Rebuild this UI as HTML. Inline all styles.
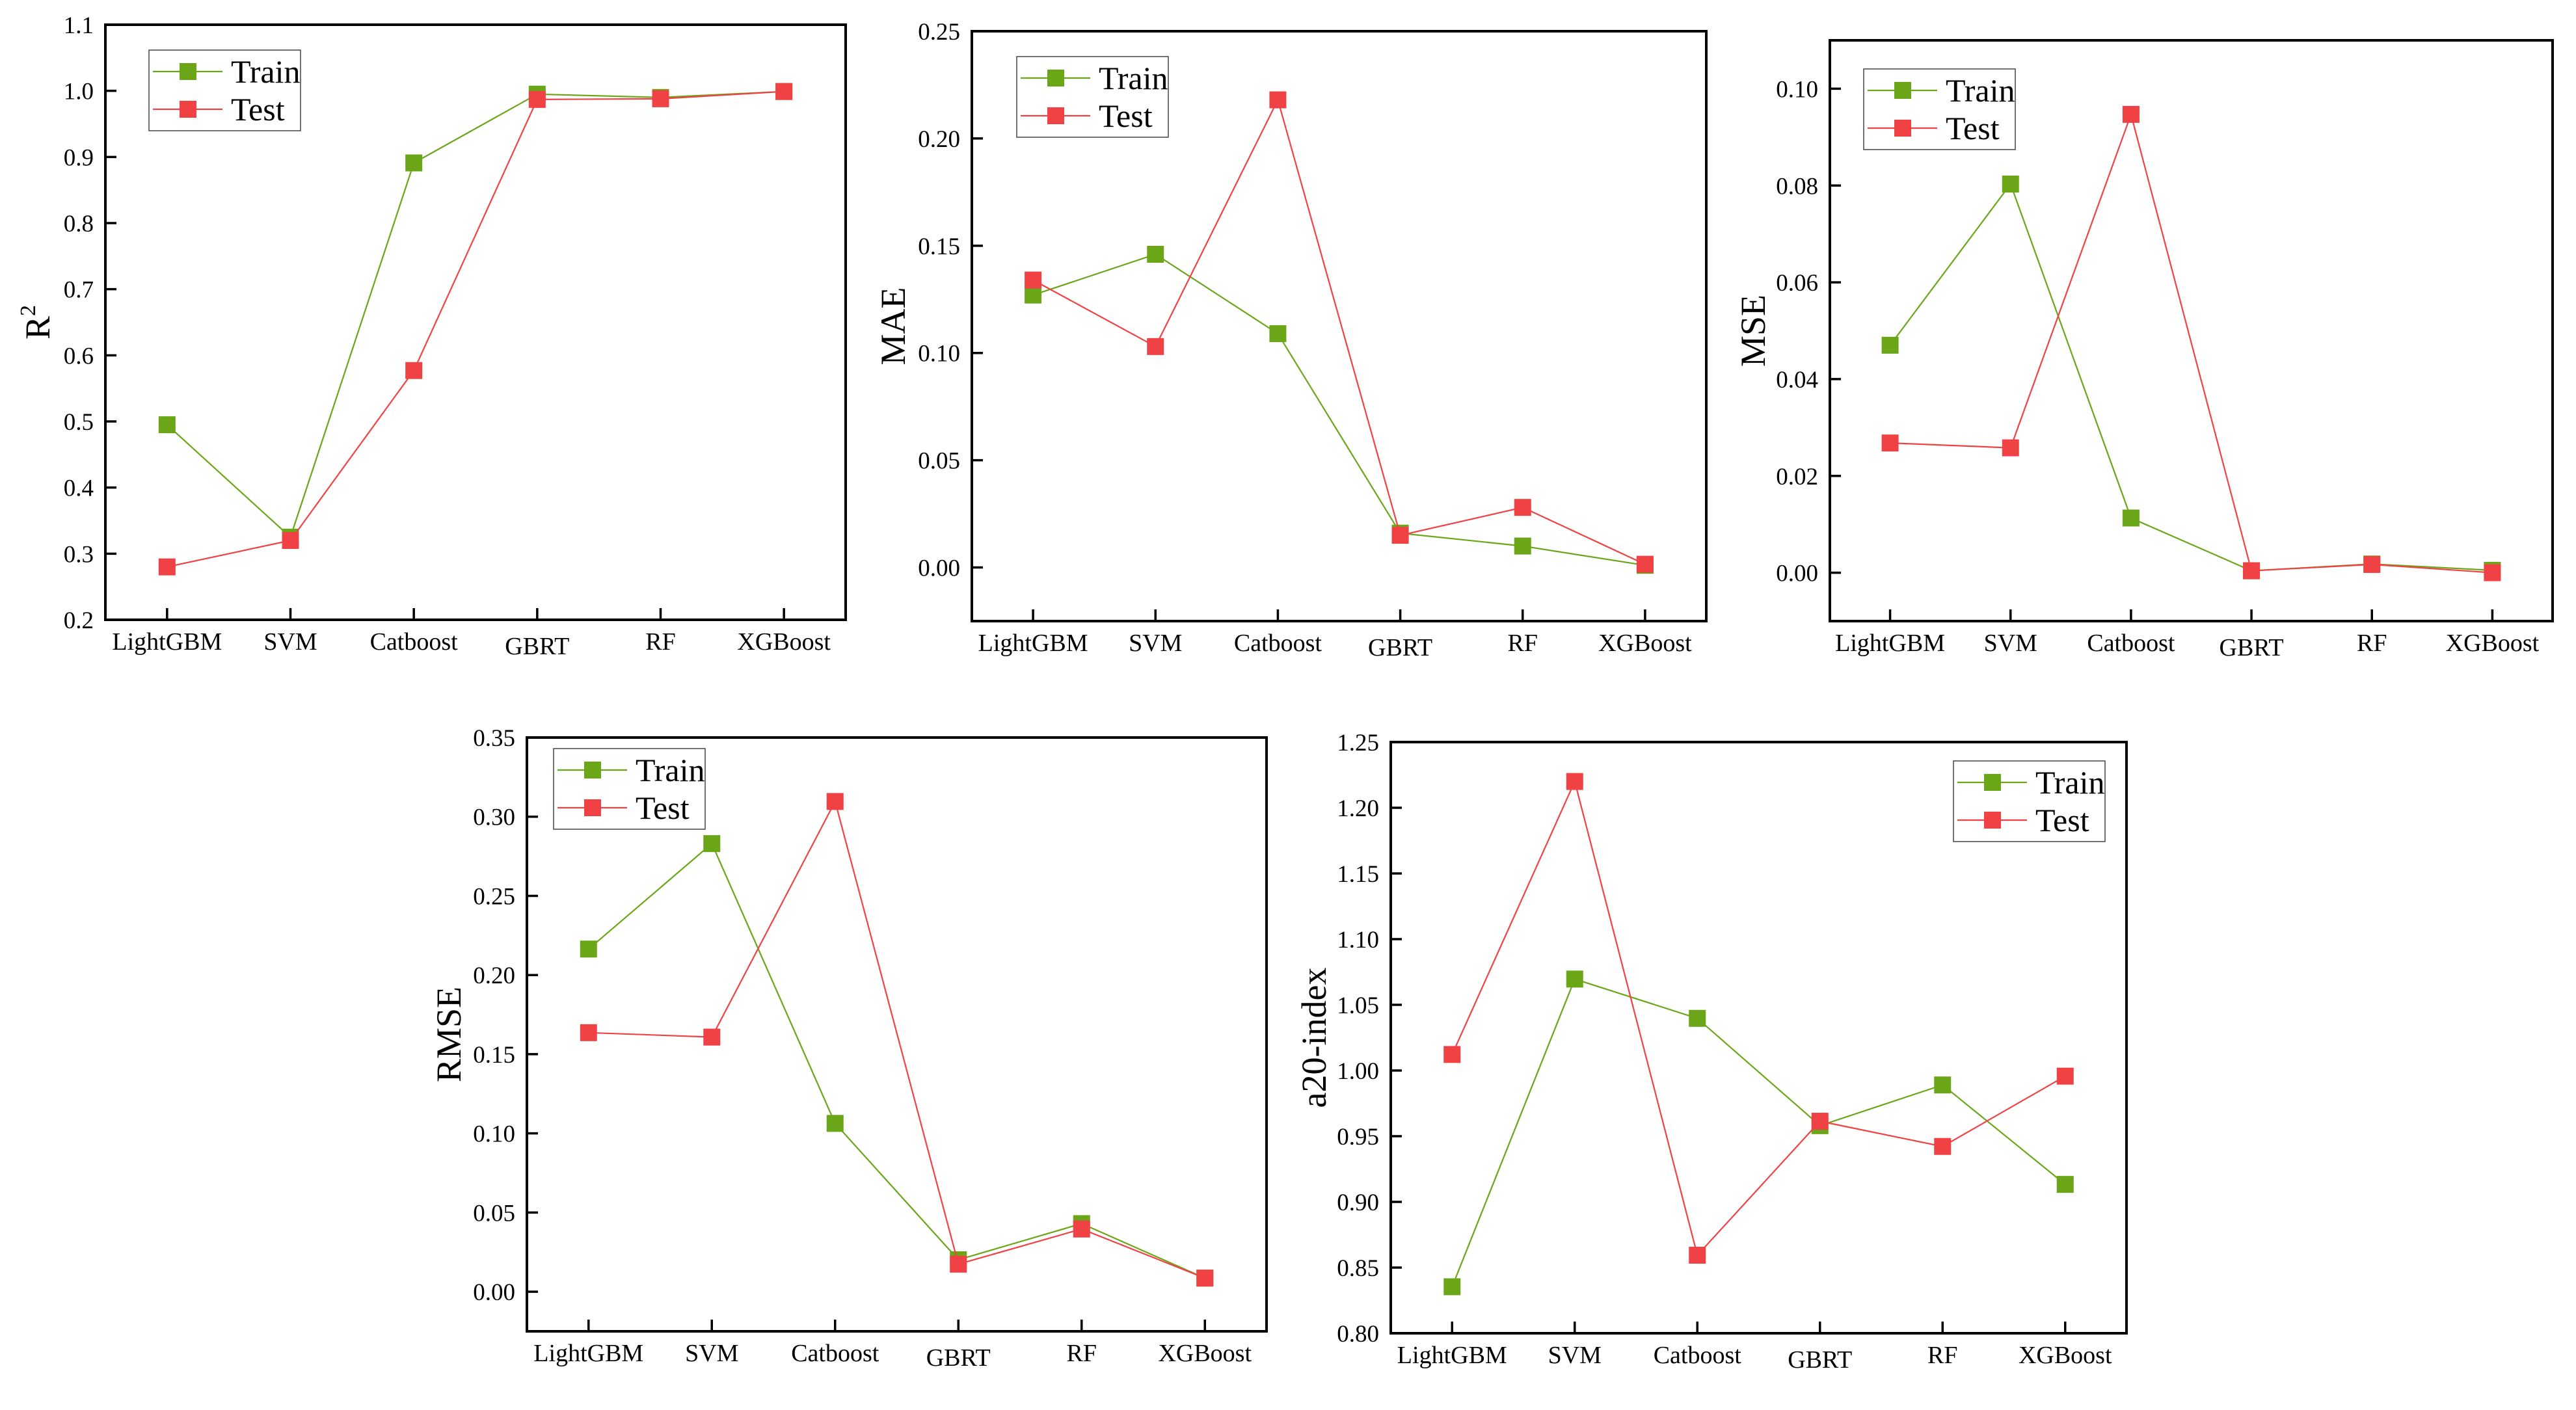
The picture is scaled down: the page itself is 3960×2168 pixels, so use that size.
<!DOCTYPE html>
<html><head><meta charset="utf-8">
<style>
html,body{margin:0;padding:0;background:#fff;}
svg{display:block;}
svg text, svg tspan{font-family:"Liberation Serif","Times New Roman",serif !important;fill:#000;}
</style></head>
<body>
<svg id="fig" width="3960" height="2168" viewBox="0 0 3960 2168" xmlns="http://www.w3.org/2000/svg"></svg>
<script>
const categories = ["LightGBM","SVM","Catboost","GBRT","RF","XGBoost"];

const r2Train = [0.495, 0.325, 0.891, 0.995, 0.990, 0.999];
const r2Test  = [0.280, 0.320, 0.577, 0.987, 0.988, 0.999];
const r2Ticks = ["0.2","0.3","0.4","0.5","0.6","0.7","0.8","0.9","1.0","1.1"];

const maeTrain = [0.127, 0.146, 0.109, 0.016, 0.010, 0.001];
const maeTest  = [0.134, 0.103, 0.218, 0.015, 0.028, 0.0015];
const maeTicks = ["0.00","0.05","0.10","0.15","0.20","0.25"];

const mseTrain = [0.047, 0.0803, 0.0113, 0.0004, 0.0018, 0.0005];
const mseTest  = [0.0268, 0.0258, 0.0947, 0.0004, 0.0017, 0.0000];
const mseTicks = ["0.00","0.02","0.04","0.06","0.08","0.10"];

const rmseTrain = [0.2164, 0.283, 0.1063, 0.0202, 0.043, 0.0086];
const rmseTest  = [0.1636, 0.1608, 0.3096, 0.0174, 0.0396, 0.0086];
const rmseTicks = ["0.00","0.05","0.10","0.15","0.20","0.25","0.30","0.35"];

const a20Train = [0.8354, 1.0696, 1.0397, 0.958, 0.989, 0.9133];
const a20Test  = [1.0122, 1.220, 0.8594, 0.9614, 0.9422, 0.9957];
const a20Ticks = ["0.80","0.85","0.90","0.95","1.00","1.05","1.10","1.15","1.20","1.25"];

const NS = "http://www.w3.org/2000/svg";
const svg = document.getElementById("fig");
const GREEN = "#6aa617", RED = "#f04245";
const FONT = '"Liberation Serif", "Times New Roman", serif';

function mk(tag, attrs, parent){
  const e = document.createElementNS(NS, tag);
  for (const k in attrs) e.setAttribute(k, attrs[k]);
  if (tag === "text") e.setAttribute("font-family", FONT);
  (parent||svg).appendChild(e);
  return e;
}

function drawChart(cfg){
  const g = mk("g", {});
  
  
  const L=cfg.box[0], T=cfg.box[1], R=cfg.box[2], B=cfg.box[3];
  const step = (R-L)/categories.length;
  const xs = i => L + step*(i+0.5);
  const ys = v => B - (v - cfg.ymin)/(cfg.ymax - cfg.ymin)*(B-T);

  cfg.ticks.forEach(t => {
    const v = parseFloat(t), y = ys(v);
    const tk = mk("line", {x1:L, x2:L+17, y1:y, y2:y, stroke:"#000","stroke-width":3.5}, g);
    
    
    const tx = mk("text", {x:L-18, y:y+13, "font-size":37, "text-anchor":"end"}, g);
    tx.textContent = t;
    
    
  });
  categories.forEach((c,i) => {
    const x = xs(i);
    const tk = mk("line", {x1:x, x2:x, y1:B, y2:B-18, stroke:"#000","stroke-width":3.5}, g);
    
    
    const tx = mk("text", {x:x, y:B+46+(c==="GBRT"?7:0), "font-size":38, "text-anchor":"middle"}, g);
    tx.textContent = c;
    
    
  });
  const fr = mk("rect", {x:L, y:T, width:R-L, height:B-T, fill:"none", stroke:"#000", "stroke-width":4}, g);
  
  

  const cy = (T+B)/2;
  const yt = mk("text", {x:0, y:0, "font-size":54, "text-anchor":"middle",
    transform:`translate(${cfg.titleX+36},${cy}) rotate(-90)`}, g);
  
  
  if (cfg.sup){
    yt.textContent = cfg.title;
    const ts = mk("tspan", {"font-size":34, dy:-22}, yt);
    ts.textContent = cfg.sup;
  } else yt.textContent = cfg.title;

  [[cfg.train, GREEN, "train"], [cfg.test, RED, "test"]].forEach(([vals,col,nm]) => {
    const pts = vals.map((v,i) => xs(i).toFixed(1)+","+ys(v).toFixed(1)).join(" ");
    const pl = mk("polyline", {points:pts, fill:"none", stroke:col, "stroke-width":2.2}, g);
    
    
    vals.forEach((v,i) => {
      const r = mk("rect", {x:xs(i)-13, y:ys(v)-13, width:26, height:26, fill:col}, g);
      
      
    });
  });

  const [lx, ly] = cfg.legend;
  const lg = mk("g", {}, g);
  
  
  const lb = mk("rect", {x:lx, y:ly, width:233, height:124, fill:"#fff", stroke:"#444", "stroke-width":1.5}, lg);
  
  
  [["Train",GREEN,33],["Test",RED,91]].forEach(([lab,col,dy]) => {
    const y = ly+dy;
    const e = mk("g", {}, lg);
    
    
    mk("line", {x1:lx+6, x2:lx+113, y1:y, y2:y, stroke:col, "stroke-width":2.2}, e);
    mk("rect", {x:lx+47, y:y-13, width:26, height:26, fill:col}, e);
    const t = mk("text", {x:lx+126, y:y+17, "font-size":50}, e);
    t.textContent = lab;
  });
}

drawChart({name:"r2", box:[162,38,1300,953], ymin:0.2, ymax:1.1, ticks:r2Ticks,
  train:r2Train, test:r2Test, title:"R", sup:"2", titleX:40, legend:[229,77]});
drawChart({name:"mae", box:[1494,48,2623,955], ymin:-0.025, ymax:0.25, ticks:maeTicks,
  train:maeTrain, test:maeTest, title:"MAE", titleX:1355, legend:[1563,87]});
drawChart({name:"mse", box:[2813,62,3924,955], ymin:-0.01, ymax:0.11, ticks:mseTicks,
  train:mseTrain, test:mseTest, title:"MSE", titleX:2677, legend:[2865,106]});
drawChart({name:"rmse", box:[810,1134,1947,2047], ymin:-0.025, ymax:0.35, ticks:rmseTicks,
  train:rmseTrain, test:rmseTest, title:"RMSE", titleX:672, legend:[851,1151]});
drawChart({name:"a20", box:[2138,1141,3269,2050], ymin:0.8, ymax:1.25, ticks:a20Ticks,
  train:a20Train, test:a20Test, title:"a20-index", titleX:2002, legend:[3003,1170]});
</script>
</body></html>
